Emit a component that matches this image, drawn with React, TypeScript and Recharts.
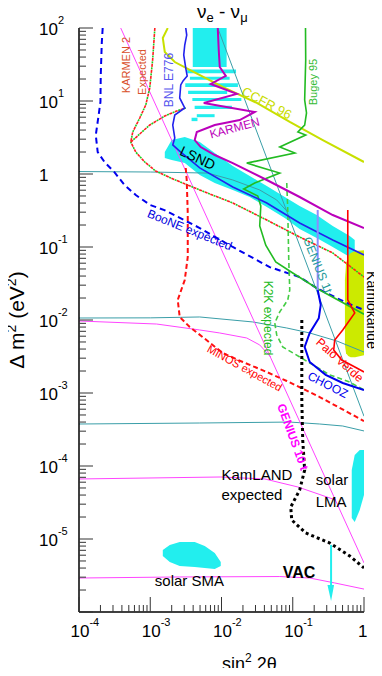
import React from "react";
import { ComposedChart, Line, Area, XAxis, YAxis, ReferenceDot } from "recharts";

const FONT = "'Liberation Sans', Arial, Helvetica, sans-serif";
const CYAN = "#22eeee";

// axes
const xDecades = [1e-4, 1e-3, 1e-2, 1e-1, 1];
const xDecadeLabels = ["10^-4", "10^-3", "10^-2", "10^-1", "1"];
const yDecades = [1e-6, 1e-5, 1e-4, 1e-3, 1e-2, 1e-1, 1, 10, 100];
const yDecadeLabels = ["", "10^-5", "10^-4", "10^-3", "10^-2", "10^-1", "1", "10^1", "10^2"];
const minorSteps = [2, 3, 4, 5, 6, 7, 8, 9];
const xTicks = [...xDecades, ...xDecades.slice(0, -1).flatMap((d) => minorSteps.map((k) => k * d))];
const yTicks = [...yDecades, ...yDecades.slice(0, -1).flatMap((d) => minorSteps.map((k) => k * d))];

// LSND allowed band
const lsndX = [1.6e-3, 2.0e-3, 3.05e-3, 4.95e-3, 8.04e-3, 1.44e-2, 2.49e-2, 4.32e-2, 7.73e-2, 0.125, 0.217, 0.364, 0.631, 0.741];
const lsndLo = [1.66, 1.55, 1.41, 0.97, 0.753, 0.604, 0.484, 0.353, 0.25, 0.176, 0.133, 0.1, 0.073, 0.0707];
const lsndHi = [2.0, 2.92, 3.21, 2.74, 1.94, 1.29, 0.94, 0.685, 0.484, 0.365, 0.274, 0.194, 0.141, 0.125];
const lsndTopX = [3.95e-3, 1.18e-2];
const lsndTopLo = [29.2, 29.2];
const lsndTopHi = [100, 100];
const stripeX1 = [3.3e-3, 3.6e-3, 3.1e-3, 3.4e-3, 3.9e-3, 4.2e-3, 4.5e-3, 3.8e-3];
const stripeX2 = [1.6e-2, 1.3e-2, 1.7e-2, 1.2e-2, 1.9e-2, 1.4e-2, 8e-3, 4.6e-3];
const stripeLo = [24, 19.5, 15.5, 12.5, 10, 7.8, 6.0, 5.3];
const stripeHi = [27, 21.5, 17.5, 13.8, 11, 8.6, 6.6, 5.9];

// Kamiokande, solar LMA / SMA, VAC
const kamiX = [0.54, 0.56, 0.6, 0.65, 0.75, 1.0];
const kamiLo = [4.5e-3, 3.5e-3, 3.2e-3, 3.1e-3, 3.1e-3, 3.3e-3];
const kamiHi = [3.5e-2, 6.0e-2, 7.5e-2, 8.3e-2, 8.8e-2, 9.0e-2];
const lmaX = [0.673, 0.741, 0.871, 1];
const lmaLo = [1.94e-5, 1.71e-5, 2.5e-5, 4.0e-5];
const lmaHi = [8.81e-5, 1.41e-4, 1.66e-4, 1.66e-4];
const smaX = [1.5e-3, 1.88e-3, 2.59e-3, 4.21e-3, 5.82e-3, 8.04e-3, 9.76e-3];
const smaLo = [5.85e-6, 4.84e-6, 4.27e-6, 4.13e-6, 4.01e-6, 3.88e-6, 4.27e-6];
const smaHi = [7.07e-6, 8.28e-6, 9.1e-6, 9.1e-6, 8.02e-6, 6.43e-6, 4.84e-6];
const vacX = [0.345, 0.345];
const vacY = [8.3e-6, 2.2e-6];
const vacHeadX = [0.307, 0.345, 0.38];
const vacHeadLo = [2.34e-6, 1.41e-6, 2.34e-6];
const vacHeadHi = [2.34e-6, 2.34e-6, 2.34e-6];

// exclusion / sensitivity curves
const boonX = [2.15e-4, 2.09e-4, 2.02e-4, 2.0e-4, 1.83e-4, 1.72e-4, 1.83e-4, 2.28e-4, 3.14e-4, 4.34e-4, 6.26e-4, 1.0e-3, 1.58e-3, 4.95e-3, 1.44e-2, 4.75e-2, 0.125, 0.217, 0.573, 1];
const boonY = [100, 64, 22.7, 9.7, 5.2, 3.4, 2.0, 1.46, 1.06, 0.71, 0.515, 0.376, 0.32, 0.182, 0.1, 0.053, 0.0388, 0.0274, 0.0171, 0.0137];
const ke2X = [1.16e-3, 1.08e-3, 9.84e-4, 8.65e-4, 7.12e-4, 5.68e-4, 5.33e-4, 6.26e-4, 8.37e-4, 1.19e-3, 1.94e-3, 4.95e-3, 1.44e-2, 4.32e-2, 0.125, 0.364, 1];
const ke2Y = [100, 36.4, 15.1, 8.81, 5.85, 3.76, 2.74, 2.0, 1.46, 1.1, 0.881, 0.604, 0.401, 0.234, 0.137, 0.0828, 0.0388];
const ke2bX = [5.33e-4, 9.84e-4, 1.6e-3, 2.35e-3, 3.15e-3];
const ke2bY = [2.74, 4.69, 6.23, 7.3, 8.02];
const minX = [3.15e-3, 3.25e-3, 3.36e-3, 3.36e-3, 3.05e-3, 2.43e-3, 2.59e-3, 3.58e-3, 6.15e-3, 1.04e-2, 1.99e-2, 4.32e-2, 8.24e-2, 0.239, 1];
const minY = [1.21, 0.828, 0.292, 0.073, 0.0353, 0.0188, 0.011, 8.02e-3, 5.32e-3, 3.53e-3, 2.66e-3, 1.94e-3, 1.46e-3, 8.81e-4, 4.13e-4];
const bnlX = [3.15e-3, 3.25e-3, 3.05e-3, 2.95e-3, 3.15e-3, 3.3e-3, 2.9e-3, 2.68e-3, 2.59e-3, 3.05e-3, 2.21e-3, 2.07e-3, 2.21e-3, 2.07e-3, 2.68e-3, 4.95e-3, 1.44e-2, 4.32e-2, 0.125, 0.364, 1];
const bnlY = [100, 80, 58.5, 42.7, 28.3, 22, 19, 16.6, 11.0, 8.02, 6.43, 4.69, 3.11, 2.5, 2.0, 1.21, 0.664, 0.401, 0.213, 0.125, 0.0777];
const karX = [8.86e-3, 9.15e-3, 9.45e-3, 1.15e-2, 7.06e-3, 1.64e-2, 5.64e-3, 2.93e-2, 1.8e-2, 8.04e-3, 4.5e-3, 4.21e-3, 5.11e-3, 8.04e-3, 1.44e-2, 4.32e-2, 0.125, 0.364, 1];
const karY = [100, 50, 29.2, 22, 17.1, 12.5, 9.4, 7.07, 5.49, 4.69, 3.76, 2.92, 2.34, 1.82, 1.41, 0.828, 0.484, 0.274, 0.182];
const ccfrX = [1.76e-3, 1.5e-3, 1.6e-3, 2.21e-3, 3.58e-3, 1.04e-2, 3.13e-2, 9.08e-2, 0.264, 1];
const ccfrY = [100, 73, 46.9, 34.2, 26.6, 15.6, 9.4, 5.16, 2.92, 1.46];
const bugX = [0.151, 0.152, 0.147, 0.156, 0.147, 0.118, 0.152, 6.57e-2, 0.107, 2.26e-2, 6.57e-2, 2.93e-2, 2.05e-2, 3.23e-2, 3.56e-2, 3.44e-2, 4.18e-2, 5.77e-2, 0.1, 0.239, 1];
const bugY = [100, 36.4, 10.3, 6.85, 4.69, 3.76, 3.42, 2.34, 1.94, 1.41, 1.03, 0.753, 0.623, 0.5, 0.365, 0.194, 0.106, 0.0623, 0.044, 0.0258, 0.012];
const k2kX = [8.24e-2, 8.51e-2, 8.79e-2, 9.08e-2, 8.51e-2, 6.57e-2, 5.59e-2, 5.96e-2, 7.24e-2, 0.107, 0.173, 0.331, 0.631, 1];
const k2kY = [0.753, 0.321, 0.0664, 0.0258, 0.0188, 0.0129, 9.1e-3, 6.23e-3, 4.27e-3, 3.42e-3, 2.58e-3, 1.77e-3, 1.41e-3, 1.1e-3];
const choozTopX = [0.224, 0.224];
const choozTopY = [0.321, 0.0258];
const choozX = [0.224, 0.247, 0.232, 0.173, 0.147, 0.173, 0.29, 0.503, 1];
const choozY = [0.0258, 0.0161, 0.0106, 6.64e-3, 4.27e-3, 2.66e-3, 1.77e-3, 1.37e-3, 1.1e-3];
const pvX = [0.592, 0.592, 0.741, 0.503, 0.388, 0.376, 0.487, 0.791, 1];
const pvY = [0.321, 0.0188, 0.0125, 7.3e-3, 5.32e-3, 3.88e-3, 2.83e-3, 2.2e-3, 1.94e-3];
const kamX = [0.134, 0.134, 0.138, 0.147, 0.125, 9.37e-2, 9.68e-2, 0.152, 0.331, 0.631, 1];
const kamY = [0.01, 8.02e-4, 2.27e-4, 8.81e-5, 4.69e-5, 2.74e-5, 1.82e-5, 1.21e-5, 8.81e-6, 5.85e-6, 4.01e-6];

// GENIUS 1t (teal) and 10t (magenta)
const tealAX = [1e-4, 1e-3, 6.41e-3, 1.44e-2, 3.44e-2, 5.96e-2, 8.24e-2];
const tealAY = [1.08, 1.065, 1.03, 0.828, 0.604, 0.44, 0.311];
const tealBX = [1e-4, 1e-3, 4.95e-3, 2.75e-2, 8.24e-2, 0.173, 0.415, 1];
const tealBY = [1.065e-2, 1.07e-2, 1.1e-2, 9.4e-3, 7.77e-3, 6.64e-3, 5.16e-3, 3.64e-3];
const tealCX = [1e-4, 4.95e-3, 9.08e-2, 0.239, 0.503, 1];
const tealCY = [3.76e-4, 3.88e-4, 4.0e-4, 3.76e-4, 3.53e-4, 3.02e-4];
const tealDX = [8.86e-3, 1];
const tealDY = [100, 4.8e-4];
const magAX = [1e-4, 1.23e-3, 4.95e-3, 9.45e-3, 2.26e-2, 3.44e-2, 4.9e-2];
const magAY = [9.69e-3, 8.81e-3, 7.3e-3, 6.64e-3, 5.67e-3, 4.55e-3, 3.11e-3];
const magBX = [1e-4, 9.76e-3, 4.05e-2, 0.118, 0.401];
const magBY = [6.64e-5, 7.07e-5, 6.64e-5, 5.16e-5, 3.42e-5];
const magCX = [1e-4, 2.59e-3, 6.57e-2, 0.173, 0.388, 1];
const magCY = [2.92e-6, 3.02e-6, 3.06e-6, 2.92e-6, 2.5e-6, 2.06e-6];
const magDX = [3.85e-4, 1];
const magDY = [100, 4.7e-6];

// annotations placed at data coordinates
const notes = [
  { text: "KARMEN 2", x: 4.53e-4, y: 31.1 },
  { text: "Expected", x: 7.6e-4, y: 25 },
  { text: "BNL E776", x: 1.82e-3, y: 19.4 },
  { text: "CCFR 96", x: 4.32e-2, y: 9.4 },
  { text: "Bugey 95", x: 0.191, y: 18.2 },
  { text: "KARMEN", x: 1.53e-2, y: 4.27 },
  { text: "LSND", x: 4.64e-3, y: 1.66 },
  { text: "BooNE expected", x: 3.58e-3, y: 0.171 },
  { text: "K2K expected", x: 4.46e-2, y: 1.065e-2 },
  { text: "GENIUS 1t", x: 0.224, y: 0.0567 },
  { text: "Kamiokande", x: 1.285, y: 0.0137 },
  { text: "Palo Verde", x: 0.457, y: 2.83e-3 },
  { text: "CHOOZ", x: 0.31, y: 1.29e-3 },
  { text: "MINOS expected", x: 2.12e-2, y: 2.2e-3 },
  { text: "GENIUS 10 t", x: 0.1, y: 2.5e-4 },
  { text: "KamLAND", x: 1.0e-2, y: 6.43e-5 },
  { text: "expected", x: 1.0e-2, y: 3.42e-5 },
  { text: "solar", x: 0.21, y: 5.49e-5 },
  { text: "LMA", x: 0.21, y: 2.74e-5 },
  { text: "solar SMA", x: 1.16e-3, y: 2.27e-6 },
  { text: "VAC", x: 7.24e-2, y: 2.92e-6 },
];
const noteLook: Record<string, { angle: number; color: string; size: number; bold?: boolean; start?: boolean }> = {
  "KARMEN 2": { angle: -90, color: "#d9502a", size: 11 },
  Expected: { angle: -90, color: "#d9502a", size: 11 },
  "BNL E776": { angle: -90, color: "#5555ee", size: 12 },
  "CCFR 96": { angle: 28, color: "#c8dc00", size: 13 },
  "Bugey 95": { angle: -90, color: "#33bb33", size: 11 },
  KARMEN: { angle: -15, color: "#bb00bb", size: 12 },
  LSND: { angle: 25, color: "#000", size: 14 },
  "BooNE expected": { angle: 22, color: "#0000dd", size: 12 },
  "K2K expected": { angle: 90, color: "#22bb22", size: 12 },
  "GENIUS 1t": { angle: 68, color: "#229999", size: 12 },
  Kamiokande: { angle: 90, color: "#000", size: 14 },
  "Palo Verde": { angle: 42, color: "#ff0000", size: 12 },
  CHOOZ: { angle: 27, color: "#0000ee", size: 12 },
  "MINOS expected": { angle: 29, color: "#ff0000", size: 11 },
  "GENIUS 10 t": { angle: 70, color: "#ff00ff", size: 12, bold: true },
  KamLAND: { angle: 0, color: "#000", size: 15, start: true },
  expected: { angle: 0, color: "#000", size: 15, start: true },
  solar: { angle: 0, color: "#000", size: 15, start: true },
  LMA: { angle: 0, color: "#000", size: 15, start: true },
  "solar SMA": { angle: 0, color: "#000", size: 15, start: true },
  VAC: { angle: 0, color: "#000", size: 16, bold: true, start: true },
};

const AX = { xAxisId: "b", yAxisId: "l" } as const;

function decadeIndex(v: number, decades: number[]) {
  return decades.findIndex((d) => Math.abs(v / d - 1) < 1e-6);
}

function PowText({ x, y, label }: { x: number; y: number; label: string }) {
  const [base, exp] = label.split("^");
  return (
    <text x={x} y={y} fontSize={17} fontFamily={FONT} fill="#000">
      {base}
      {exp && (
        <tspan dy={-11} fontSize={11}>
          {exp}
        </tspan>
      )}
    </text>
  );
}

const XBottomTick = (p: any) => {
  const i = decadeIndex(p.payload.value, xDecades);
  const lab = i >= 0 ? xDecadeLabels[i] : "";
  return (
    <g>
      <line x1={p.x} x2={p.x} y1={p.y} y2={p.y - (i >= 0 ? 15 : 7)} stroke="#333" />
      {lab && <PowText x={lab === "1" ? p.x - 6 : p.x - 8.5} y={p.y + 25} label={lab} />}
    </g>
  );
};
const XTopTick = (p: any) => {
  const major = decadeIndex(p.payload.value, xDecades) >= 0;
  return <line x1={p.x} x2={p.x} y1={p.y} y2={p.y + (major ? 16 : 7)} stroke="#333" />;
};
const YLeftTick = (p: any) => {
  const i = decadeIndex(p.payload.value, yDecades);
  const lab = i >= 0 ? yDecadeLabels[i] : "";
  return (
    <g>
      <line x1={p.x} x2={p.x + (i >= 0 ? 14 : 7)} y1={p.y} y2={p.y} stroke="#333" />
      {lab && <PowText x={p.x - 40} y={p.y + 7} label={lab} />}
    </g>
  );
};
const YRightTick = (p: any) => {
  const major = decadeIndex(p.payload.value, yDecades) >= 0;
  return <line x1={p.x} x2={p.x - (major ? 13 : 6)} y1={p.y} y2={p.y} stroke="#333" />;
};

function curve(key: string, xs: number[], ys: number[], color: string, width: number, dash?: string, offset?: number) {
  return (
    <Line
      key={key}
      {...AX}
      data={xs.map((x, i) => ({ x, y: ys[i] }))}
      dataKey="y"
      type="linear"
      stroke={color}
      strokeWidth={width}
      strokeDasharray={dash}
      strokeDashoffset={offset}
      dot={false}
      activeDot={false}
      isAnimationActive={false}
    />
  );
}

function region(key: string, xs: number[], lo: number[], hi: number[], color: string) {
  return (
    <Area
      key={key}
      {...AX}
      data={xs.map((x, i) => ({ x, r: [lo[i], hi[i]] }))}
      dataKey="r"
      type="linear"
      stroke="none"
      fill={color}
      fillOpacity={1}
      dot={false}
      activeDot={false}
      isAnimationActive={false}
    />
  );
}

export default function App() {
  return (
    <div style={{ position: "relative", width: 382, height: 676, margin: -8, background: "#fff" }}>
      <ComposedChart width={382} height={676} margin={{ top: 28, right: 18, bottom: 24, left: 19 }}>
        <XAxis xAxisId="b" dataKey="x" type="number" scale="log" domain={[1e-4, 1]} allowDataOverflow ticks={xTicks} interval={0} tickSize={0} tickMargin={0} height={40} axisLine={{ stroke: "#000", strokeWidth: 1.5 }} tick={XBottomTick} />
        <XAxis xAxisId="t" orientation="top" dataKey="x" type="number" scale="log" domain={[1e-4, 1]} allowDataOverflow ticks={xTicks} interval={0} tickSize={0} tickMargin={0} height={0} axisLine={{ stroke: "#000", strokeWidth: 1.5 }} tick={XTopTick} />
        <YAxis yAxisId="l" type="number" scale="log" domain={[1e-6, 100]} allowDataOverflow ticks={yTicks} interval={0} tickSize={0} tickMargin={0} width={60} axisLine={{ stroke: "#000", strokeWidth: 1.5 }} tick={YLeftTick} />
        <YAxis yAxisId="r" orientation="right" type="number" scale="log" domain={[1e-6, 100]} allowDataOverflow ticks={yTicks} interval={0} tickSize={0} tickMargin={0} width={0} axisLine={{ stroke: "#000", strokeWidth: 1.5 }} tick={YRightTick} />

        {region("lsnd", lsndX, lsndLo, lsndHi, CYAN)}
        {region("lsndTop", lsndTopX, lsndTopLo, lsndTopHi, CYAN)}
        {stripeX1.map((x1, i) => region(`stripe${i}`, [x1, stripeX2[i]], [stripeLo[i], stripeLo[i]], [stripeHi[i], stripeHi[i]], CYAN))}
        {region("kami", kamiX, kamiLo, kamiHi, "#ccea00")}
        {region("lma", lmaX, lmaLo, lmaHi, CYAN)}
        {region("sma", smaX, smaLo, smaHi, CYAN)}
        {region("vacHead", vacHeadX, vacHeadLo, vacHeadHi, CYAN)}

        {curve("tealA", tealAX, tealAY, "#3a9ea8", 1)}
        {curve("tealB", tealBX, tealBY, "#3a9ea8", 1)}
        {curve("tealC", tealCX, tealCY, "#3a9ea8", 1)}
        {curve("tealD", tealDX, tealDY, "#3a9ea8", 1)}
        {curve("magA", magAX, magAY, "#ff44ff", 1)}
        {curve("magB", magBX, magBY, "#ff44ff", 1)}
        {curve("magC", magCX, magCY, "#ff44ff", 1)}
        {curve("magD", magDX, magDY, "#ff44ff", 1)}
        {curve("vac", vacX, vacY, CYAN, 2)}

        {curve("boone", boonX, boonY, "#0000ee", 2, "6 4")}
        {curve("ke2r", ke2X, ke2Y, "#ff2020", 1.6, "3 3")}
        {curve("ke2g", ke2X, ke2Y, "#22cc22", 1.6, "2 4", 2.5)}
        {curve("ke2br", ke2bX, ke2bY, "#ff2020", 1.6, "3 3")}
        {curve("ke2bg", ke2bX, ke2bY, "#22cc22", 1.6, "2 4", 2.5)}
        {curve("minos", minX, minY, "#ff1010", 2, "5 3")}
        {curve("k2k", k2kX, k2kY, "#44cc44", 1.6, "5 3")}
        {curve("ccfr", ccfrX, ccfrY, "#c8e000", 2)}
        {curve("bugey", bugX, bugY, "#22bb22", 1.6)}
        {curve("karmen", karX, karY, "#bb00bb", 2)}
        {curve("bnl", bnlX, bnlY, "#2222ee", 1.6)}
        {curve("choozTop", choozTopX, choozTopY, "#8c8cff", 2)}
        {curve("chooz", choozX, choozY, "#0000ee", 2)}
        {curve("pv", pvX, pvY, "#ff0000", 1.6)}
        {curve("kamland", kamX, kamY, "#000", 3, "3 3")}

        {notes.map((n) => {
          const look = noteLook[n.text];
          return (
            <ReferenceDot
              key={n.text}
              {...AX}
              x={n.x}
              y={n.y}
              r={0}
              ifOverflow="visible"
              shape={(sp: any) => (
                <text
                  x={sp.cx}
                  y={sp.cy}
                  transform={look.angle ? `rotate(${look.angle} ${sp.cx} ${sp.cy})` : undefined}
                  textAnchor={look.start ? "start" : "middle"}
                  dominantBaseline={look.start ? "alphabetic" : "central"}
                  fontSize={look.size}
                  fontWeight={look.bold ? "bold" : "normal"}
                  fontFamily={FONT}
                  fill={look.color}
                >
                  {n.text}
                </text>
              )}
            />
          );
        })}
      </ComposedChart>
      <svg width={382} height={676} style={{ position: "absolute", left: 0, top: 0, pointerEvents: "none" }}>
        <text x={197} y={18} fontSize={19} fontFamily={FONT} fill="#000">
          ν<tspan dy={4} fontSize={13}>e</tspan>
          <tspan dy={-4}> - ν</tspan>
          <tspan dy={4} fontSize={13}>μ</tspan>
        </text>
        <text x={222} y={670} fontSize={18} fontFamily={FONT} fill="#000">
          sin<tspan dy={-8} fontSize={12}>2</tspan>
          <tspan dy={8}> 2θ</tspan>
        </text>
        <text transform="rotate(-90 24 320)" x={24} y={320} textAnchor="middle" fontSize={21} fontFamily={FONT} fill="#000">
          Δ m<tspan dy={-8} fontSize={14}>2</tspan>
          <tspan dy={8}> (eV</tspan>
          <tspan dy={-8} fontSize={14}>2</tspan>
          <tspan dy={8}>)</tspan>
        </text>
      </svg>
    </div>
  );
}
